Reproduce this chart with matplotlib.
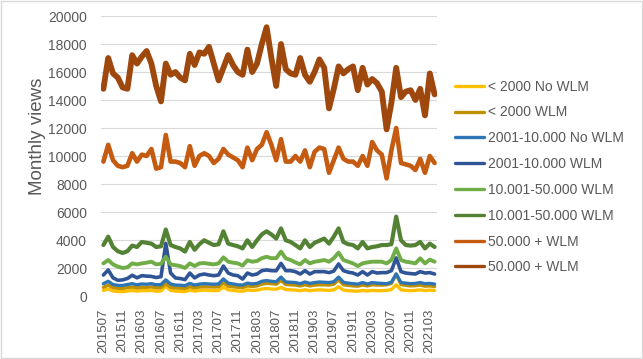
import matplotlib
matplotlib.use("Agg")
import matplotlib.pyplot as plt
from matplotlib.patches import Rectangle

plt.rcParams['font.family'] = ['Liberation Sans', 'DejaVu Sans']

# months 201507 .. 202104
months = []
for y in range(2015, 2022):
    for m in range(1, 13):
        ym = y * 100 + m
        if 201507 <= ym <= 202104:
            months.append(str(ym))

# monthly views, thousands
lt2000_nowlm = [0.40, 0.50, 0.36, 0.32, 0.31, 0.36, 0.40, 0.35, 0.38, 0.38,
                0.40, 0.34, 0.36, 0.70, 0.40, 0.35, 0.33, 0.31, 0.42, 0.35,
                0.40, 0.42, 0.40, 0.38, 0.40, 0.64, 0.44, 0.40, 0.36, 0.34,
                0.44, 0.40, 0.42, 0.50, 0.54, 0.50, 0.48, 0.62, 0.46, 0.44,
                0.42, 0.38, 0.44, 0.38, 0.42, 0.44, 0.42, 0.40, 0.44, 0.66,
                0.42, 0.38, 0.36, 0.34, 0.40, 0.36, 0.40, 0.38, 0.38, 0.40,
                0.46, 0.80, 0.44, 0.40, 0.38, 0.40, 0.44, 0.38, 0.42, 0.40]
lt2000_wlm = [0.62, 0.78, 0.60, 0.55, 0.54, 0.60, 0.64, 0.58, 0.62, 0.62,
              0.65, 0.58, 0.60, 0.90, 0.62, 0.58, 0.56, 0.54, 0.66, 0.58,
              0.64, 0.66, 0.65, 0.64, 0.66, 0.95, 0.70, 0.66, 0.62, 0.60,
              0.72, 0.68, 0.72, 0.85, 0.90, 0.88, 0.84, 1.10, 0.82, 0.80,
              0.78, 0.72, 0.80, 0.72, 0.78, 0.80, 0.80, 0.78, 0.84, 1.15,
              0.80, 0.76, 0.72, 0.70, 0.78, 0.72, 0.80, 0.78, 0.78, 0.80,
              0.90, 1.55, 0.82, 0.76, 0.72, 0.74, 0.78, 0.70, 0.72, 0.68]
mid_nowlm = [0.88, 1.05, 0.82, 0.76, 0.75, 0.82, 0.88, 0.80, 0.86, 0.84,
             0.88, 0.80, 0.82, 1.15, 0.86, 0.78, 0.77, 0.74, 0.90, 0.78,
             0.85, 0.88, 0.86, 0.84, 0.86, 1.22, 0.92, 0.86, 0.80, 0.78,
             0.92, 0.86, 0.90, 1.05, 1.10, 1.05, 1.02, 1.35, 1.00, 0.98,
             0.96, 0.88, 1.00, 0.90, 0.96, 1.00, 0.98, 0.96, 1.02, 1.35,
             0.98, 0.92, 0.88, 0.85, 0.96, 0.86, 0.96, 0.92, 0.90, 0.88,
             0.98, 1.58, 0.96, 0.92, 0.88, 0.90, 0.96, 0.88, 0.90, 0.85]
mid_wlm = [1.50, 1.86, 1.30, 1.12, 1.15, 1.25, 1.48, 1.30, 1.45, 1.42,
           1.40, 1.32, 1.38, 3.76, 1.64, 1.29, 1.25, 1.17, 1.64, 1.29,
           1.50, 1.57, 1.50, 1.45, 1.50, 2.14, 1.64, 1.50, 1.45, 1.21,
           1.64, 1.50, 1.57, 1.81, 1.86, 1.81, 1.80, 2.33, 1.81, 1.81,
           1.74, 1.57, 1.81, 1.57, 1.74, 1.74, 1.74, 1.67, 1.78, 2.29,
           1.81, 1.70, 1.64, 1.50, 1.74, 1.50, 1.74, 1.64, 1.67, 1.67,
           1.81, 2.72, 1.74, 1.64, 1.60, 1.57, 1.74, 1.64, 1.67, 1.57]
big_wlm_a = [2.33, 2.57, 2.26, 2.10, 2.00, 2.05, 2.33, 2.26, 2.33, 2.38,
             2.45, 2.26, 2.30, 2.81, 2.26, 2.20, 2.14, 2.00, 2.33, 2.14,
             2.33, 2.35, 2.30, 2.26, 2.33, 2.76, 2.45, 2.38, 2.33, 2.17,
             2.55, 2.45, 2.50, 2.70, 2.80, 2.70, 2.70, 3.17, 2.69, 2.57,
             2.40, 2.26, 2.57, 2.33, 2.45, 2.50, 2.57, 2.45, 2.70, 3.10,
             2.57, 2.45, 2.33, 2.14, 2.33, 2.40, 2.45, 2.45, 2.45, 2.33,
             2.57, 3.40, 2.57, 2.45, 2.40, 2.33, 2.69, 2.33, 2.60, 2.45]
big_wlm_b = [3.64, 4.24, 3.50, 3.20, 3.07, 3.20, 3.60, 3.50, 3.86, 3.80,
             3.74, 3.50, 3.55, 4.75, 3.64, 3.50, 3.40, 3.17, 3.86, 3.30,
             3.70, 3.98, 3.80, 3.64, 3.70, 4.62, 3.74, 3.64, 3.55, 3.40,
             3.98, 3.50, 3.98, 4.40, 4.62, 4.40, 4.10, 4.83, 3.98, 3.86,
             3.64, 3.40, 3.98, 3.50, 3.80, 3.95, 4.10, 3.74, 4.24, 4.83,
             3.86, 3.70, 3.64, 3.40, 3.86, 3.40, 3.50, 3.55, 3.64, 3.64,
             3.70, 5.67, 3.98, 3.64, 3.60, 3.64, 3.86, 3.40, 3.74, 3.50]
top_wlm_a = [9.6, 10.8, 9.7, 9.3, 9.2, 9.3, 10.2, 9.6, 10.1, 10.0,
             10.5, 9.1, 9.2, 11.5, 9.6, 9.6, 9.5, 9.2, 10.7, 9.3,
             10.0, 10.2, 10.0, 9.5, 9.8, 10.5, 10.1, 9.9, 9.7, 9.2,
             10.6, 9.7, 10.5, 10.8, 11.7, 10.8, 9.7, 11.2, 9.6, 9.6,
             10.0, 9.6, 10.4, 9.2, 10.3, 10.6, 10.5, 8.8, 9.7, 10.6,
             9.8, 9.6, 9.6, 9.3, 10.0, 9.3, 11.0, 10.4, 10.1, 8.4,
             10.4, 12.0, 9.5, 9.4, 9.3, 9.0, 9.8, 8.8, 10.0, 9.5]
top_wlm_b = [14.8, 17.0, 15.9, 15.6, 14.9, 14.8, 17.2, 16.6, 17.1, 17.5,
             16.6, 15.0, 13.9, 16.6, 15.8, 16.0, 15.6, 15.4, 17.3, 16.5,
             17.4, 17.3, 17.8, 16.6, 15.4, 16.3, 17.2, 16.5, 16.0, 15.8,
             17.6, 16.0, 16.6, 18.0, 19.2, 17.0, 15.0, 18.0, 16.2, 15.9,
             15.8, 17.0, 15.8, 15.3, 16.0, 16.9, 16.3, 13.4, 14.8, 16.4,
             15.9, 16.2, 16.4, 14.7, 16.3, 15.1, 15.5, 15.2, 14.6, 11.9,
             13.8, 16.3, 14.2, 14.6, 14.7, 14.0, 14.8, 12.9, 15.9, 14.4]

series = [
    ("< 2000 No WLM", lt2000_nowlm, "#FFC000", 2.4),
    ("< 2000 WLM", lt2000_wlm, "#BF9000", 2.4),
    ("2001-10.000 No WLM", mid_nowlm, "#2E75B6", 2.4),
    ("2001-10.000 WLM", mid_wlm, "#2F5597", 2.6),
    ("10.001-50.000 WLM", big_wlm_a, "#70AD47", 2.8),
    ("10.001-50.000 WLM", big_wlm_b, "#548235", 3.0),
    ("50.000 + WLM", top_wlm_a, "#C55A11", 3.3),
    ("50.000 + WLM", top_wlm_b, "#9E480E", 4.2),
]

fig = plt.figure(figsize=(6.43, 3.59), dpi=100)
ax = fig.add_axes([101 / 643, 1 - 296 / 359, 336 / 643, 280 / 359])

x = list(range(len(months)))
for label, vals, color, lw in series:
    ax.plot(x, [v * 1000 for v in vals], color=color, lw=lw, label=label,
            solid_joinstyle="round", solid_capstyle="round")

ax.set_xlim(-0.5, len(months) - 0.5)
ax.set_ylim(0, 20000)
ax.set_yticks(range(0, 20001, 2000))
ax.set_xticks(x[::4])
ax.set_xticklabels(months[::4], rotation=90)
ax.tick_params(axis="x", length=0, labelsize=9.5, labelcolor="#595959", pad=9)
ax.tick_params(axis="y", length=0, labelsize=10, labelcolor="#595959", pad=10)
ax.grid(axis="y", color="#D9D9D9", lw=0.8)
ax.set_axisbelow(True)
for s in ax.spines.values():
    s.set_visible(False)

fig.text(0.058, 0.62, "Monthly views", rotation=90, ha="center", va="center",
         fontsize=13.5, color="#595959")

leg = fig.legend(loc="center left", bbox_to_anchor=(455 / 643, 1 - 177 / 359),
                 frameon=False, fontsize=10, labelspacing=0.85,
                 handlelength=2.1, handletextpad=0.25, borderpad=0,
                 borderaxespad=0)
for t in leg.get_texts():
    t.set_color("#595959")
for ln in leg.get_lines():
    ln.set_linewidth(2.4)

fig.patches.append(Rectangle((0.001, 0.002), 0.998, 0.996, transform=fig.transFigure,
                             fill=False, edgecolor="#D9D9D9", lw=1))

fig.savefig("out.png", dpi=100)
